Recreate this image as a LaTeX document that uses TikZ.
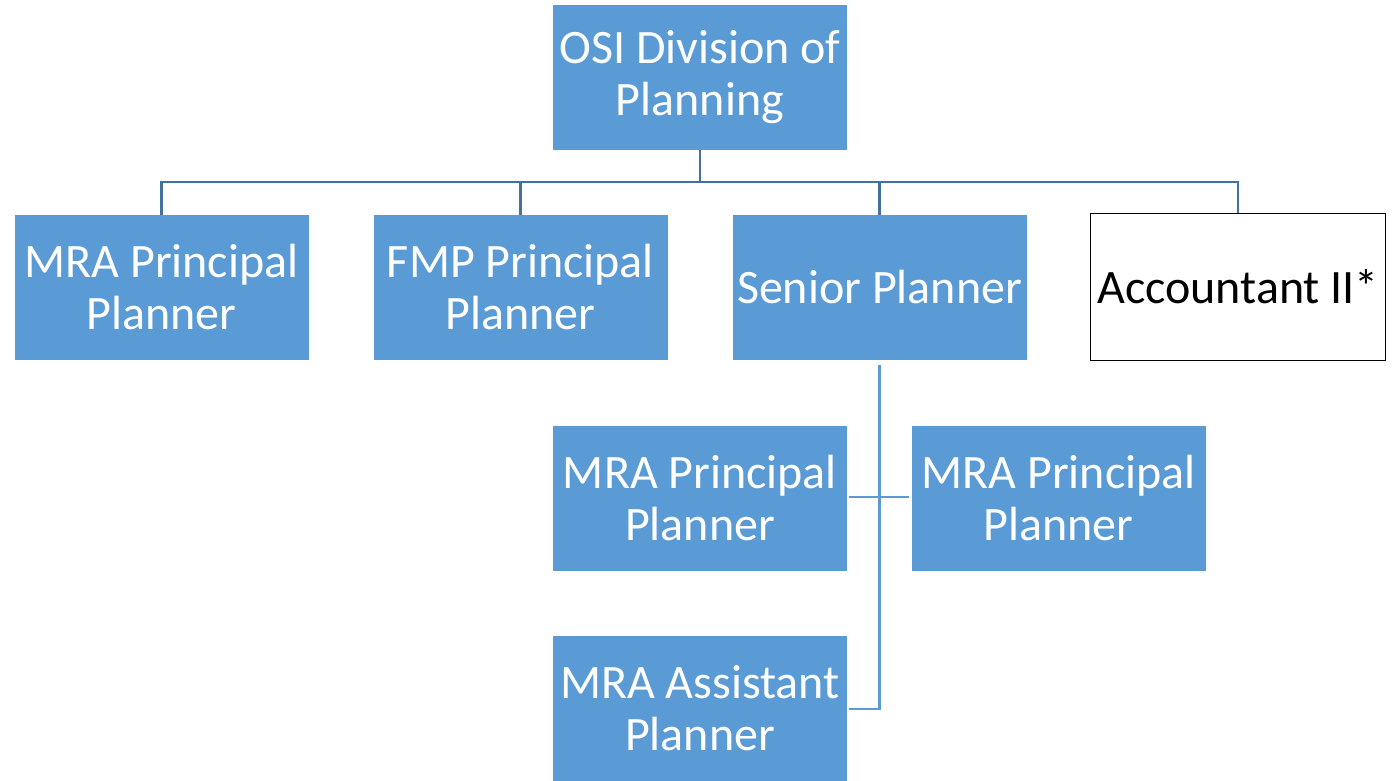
\documentclass[tikz,border=0pt]{standalone}
\usepackage{fontspec}
\setmainfont{Carlito}
\usetikzlibrary{calc}
\definecolor{boxblue}{HTML}{5B9BD5}
\definecolor{linkblue}{HTML}{41719C}

\tikzset{
  post/.style={rectangle, fill=boxblue, text=white, minimum width=220.5pt,
    minimum height=108.75pt, inner sep=0pt, align=center,
    font=\fontsize{36}{39}\selectfont},
  vacant/.style={post, fill=white, draw=black, line width=1.1pt, text=black,
    minimum width=221pt, minimum height=110pt},
  link/.style={draw=linkblue, line width=2.2pt},
  sublink/.style={draw=boxblue, line width=2.2pt}
}

\begin{document}
\begin{tikzpicture}[x=0.75pt, y=-0.75pt]
  \useasboundingbox (0,0) rectangle (1399,781);

  \node [post]   (osi)    at (700 ,77.5)  {OSI Division of\\Planning};
  \node [post]   (mra)    at (161.5,287.5) {MRA Principal\\Planner};
  \node [post]   (fmp)    at (520.5,287.5) {FMP Principal\\Planner};
  \node [post]   (senior) at (879.5,287.5) {Senior Planner};
  \node [vacant] (acc)    at (1238,287)   {Accountant II*};

  \node [post]   (mraleft)  at (700  ,498.5) {MRA Principal\\Planner};
  \node [post]   (mraright) at (1058.5,498.5) {MRA Principal\\Planner};
  \node [post]   (asst)     at (700  ,708.5) {MRA Assistant\\Planner};

  \coordinate (bus)   at (700,182);
  \coordinate (trunk) at ($(senior.south)+(0,5)$);
  \coordinate (foot)  at (879.5,709);

  \draw [link] (osi.south) -- (bus);
  \draw [link] (mra.north) |- (bus) -| (acc.north);
  \draw [link] (fmp.north) -- (fmp.north |- bus);
  \draw [link] (senior.north) -- (senior.north |- bus);

  \draw [sublink] (trunk) -- (foot) -- ($(asst.east |- foot)+(2,0)$);
  \draw [sublink] ($(mraleft.east)+(2,-1.5)$) -- ($(mraright.west)+(-2,-1.5)$);
\end{tikzpicture}
\end{document}
